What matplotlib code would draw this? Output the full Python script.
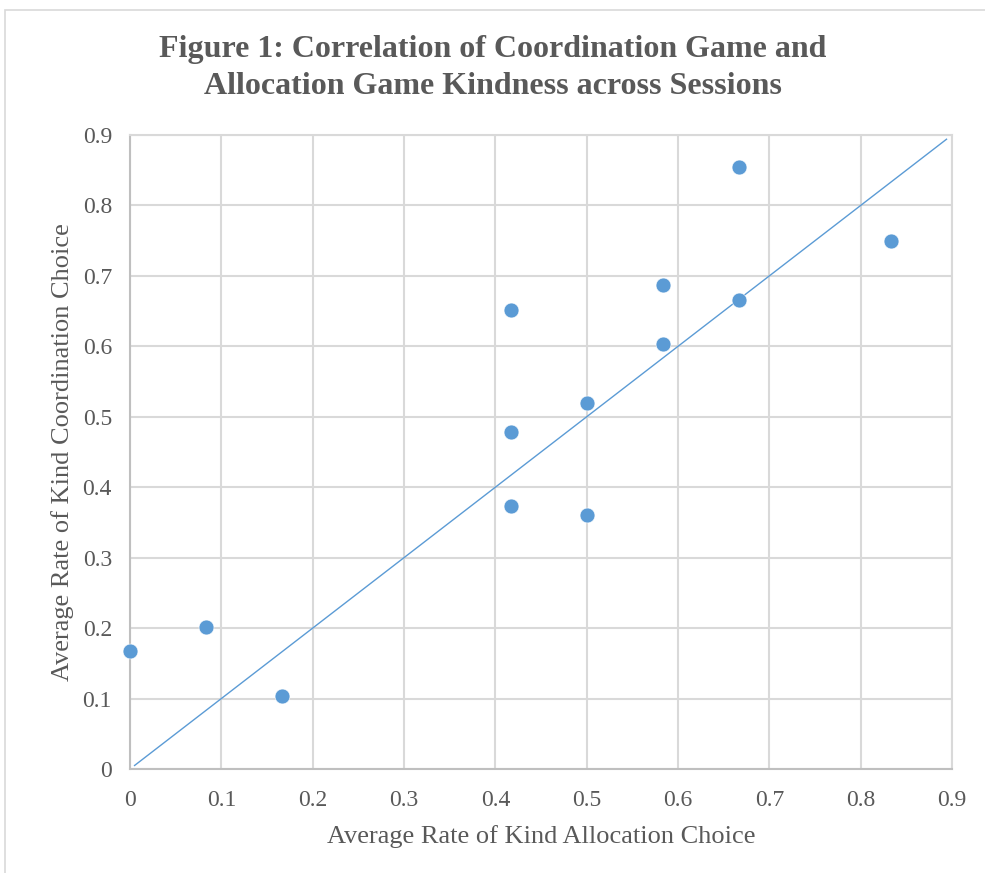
import matplotlib

matplotlib.use("Agg")

import matplotlib.pyplot as plt
import numpy as np
from matplotlib.patches import Rectangle

# session averages
allocation_rate = [0, 1 / 12, 1 / 6, 5 / 12, 5 / 12, 5 / 12, 0.5, 0.5,
                   7 / 12, 7 / 12, 2 / 3, 2 / 3, 5 / 6]
coordination_rate = [0.167, 0.201, 0.104, 0.652, 0.478, 0.374, 0.520, 0.361,
                     0.687, 0.603, 0.854, 0.666, 0.749]
ref_line_x = [0.005, 0.894]  # 45 degree reference line

TITLE = "Figure 1: Correlation of Coordination Game and\nAllocation Game Kindness across Sessions"
X_LABEL = "Average Rate of Kind Allocation Choice"
Y_LABEL = "Average Rate of Kind Coordination Choice"
ticks = np.round(np.arange(0, 0.91, 0.1), 1)

TEXT = "#595959"
GRID = "#d9d9d9"
AXIS = "#bfbfbf"
BLUE = "#5b9bd5"

plt.rcParams["font.family"] = ["Liberation Serif", "DejaVu Serif"]

fig = plt.figure(figsize=(9.85, 8.73), dpi=100)
fig.patch.set_facecolor("white")

# chart-area border (cropped at right and bottom in the original)
fig.patches.append(Rectangle((5 / 985, -0.05), 1.1, 1 - 10 / 873 + 0.05,
                             transform=fig.transFigure, fill=False,
                             edgecolor=GRID, linewidth=1.2))

ax = fig.add_axes([130 / 985, 1 - 769 / 873, 822 / 985, 634 / 873])
ax.set_xlim(0, 0.9)
ax.set_ylim(0, 0.9)
ax.set_xticks(ticks)
ax.set_yticks(ticks)
ax.set_xticklabels([f"{t:g}" for t in ticks])
ax.set_yticklabels([f"{t:g}" for t in ticks])
ax.tick_params(length=0, labelsize=17, colors=TEXT)
ax.tick_params(axis="x", pad=15)
ax.tick_params(axis="y", pad=13)

ax.grid(True, color=GRID, linewidth=1.5, zorder=0)
for side in ("top", "right"):
    ax.spines[side].set_color(GRID)
    ax.spines[side].set_linewidth(1.5)
for side in ("left", "bottom"):
    ax.spines[side].set_color(AXIS)
    ax.spines[side].set_linewidth(1.5)

ax.plot(ref_line_x, ref_line_x, color=BLUE, linewidth=1.0, zorder=3)
ax.scatter(allocation_rate, coordination_rate, s=115, color=BLUE,
           edgecolors="white", linewidths=0.4, zorder=4, clip_on=False)

ax.set_xlabel(X_LABEL, fontsize=19, color=TEXT, labelpad=10)
ax.set_ylabel(Y_LABEL, fontsize=19, color=TEXT, labelpad=6)

fig.text(0.5, 1 - 68 / 873, TITLE, ha="center", va="center", fontsize=23,
         fontweight="bold", color=TEXT, linespacing=1.4)

fig.savefig("out.png", dpi=100, facecolor="white")
